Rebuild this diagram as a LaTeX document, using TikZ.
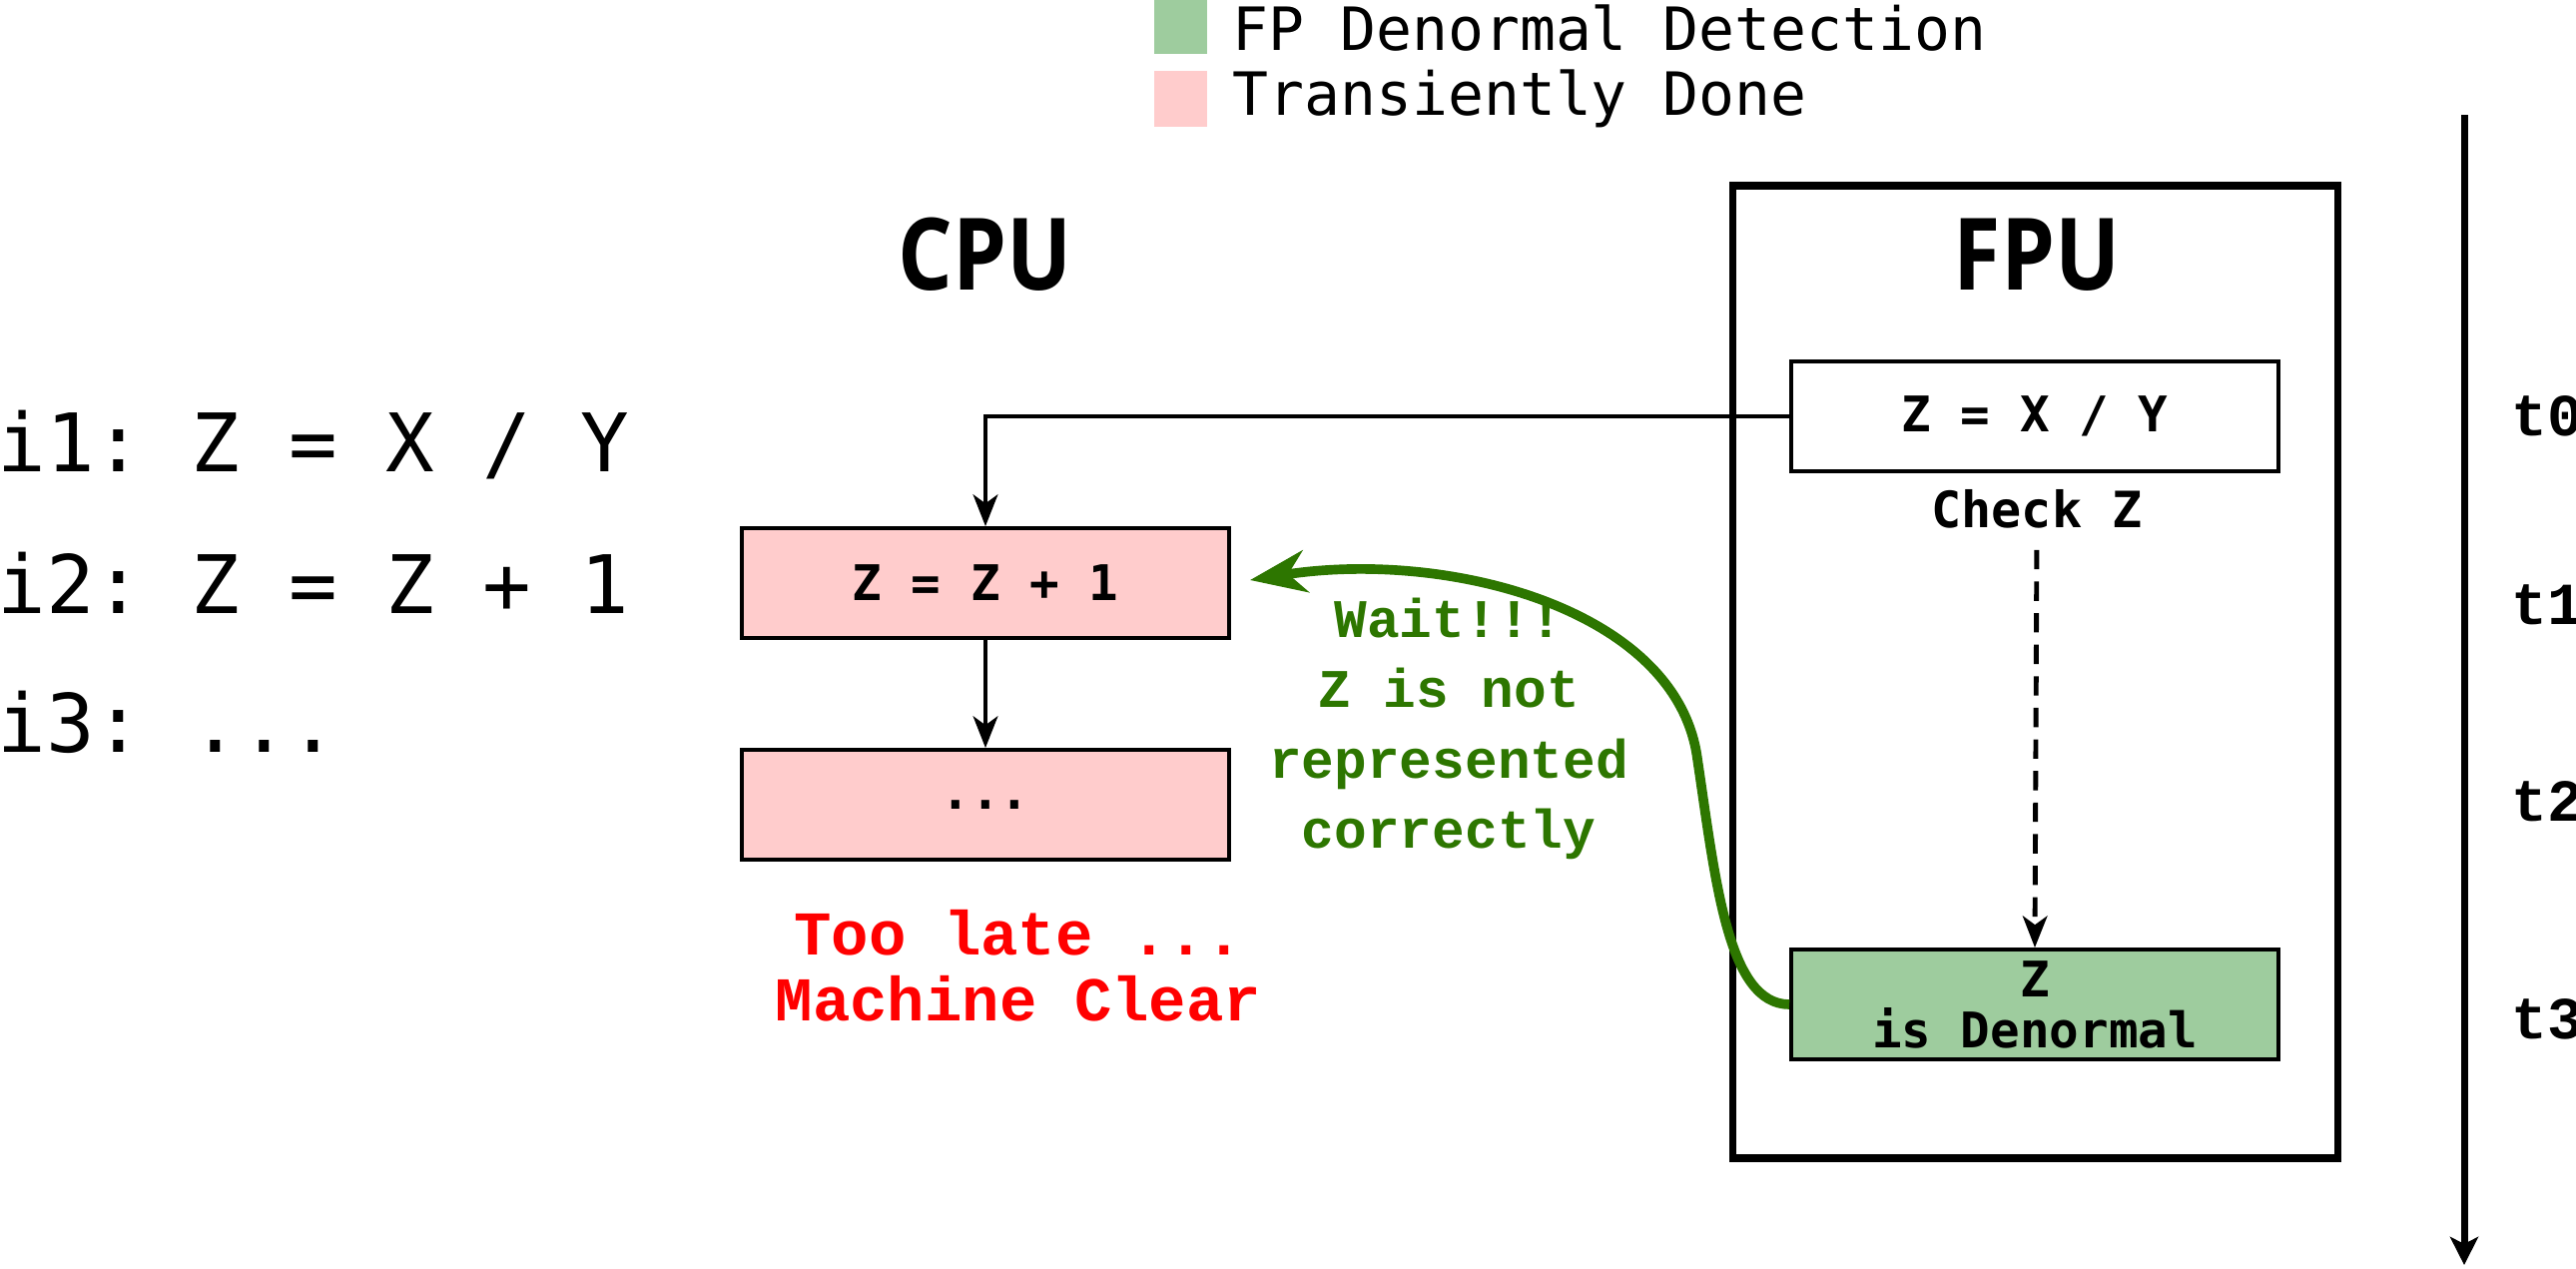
\documentclass[tikz,border=0pt]{standalone}
\usepackage{fontspec}
\setmonofont{DejaVu Sans Mono}
\newfontfamily\slabmono{Liberation Mono}
\newfontfamily\titlefont{Open Sans}[FakeStretch=0.86]
\usetikzlibrary{arrows.meta}
\definecolor{denormal}{HTML}{9ECC9E}
\definecolor{transient}{HTML}{FFCCCC}
\definecolor{waitgreen}{HTML}{2D7600}

\begin{document}
\begin{tikzpicture}[x=0.02cm,y=-0.02cm,
  code/.style={font=\ttfamily\fontsize{46}{50}\selectfont,anchor=base west,inner sep=0},
  legend/.style={font=\ttfamily\fontsize{34}{36}\selectfont,anchor=base west,inner sep=0},
  title/.style={font=\titlefont\bfseries\fontsize{57}{60}\selectfont,inner sep=0},
  opbox/.style={draw,line width=2.2pt,minimum width=9.76cm,minimum height=2.2cm,
    inner sep=0,align=center,font=\ttfamily\bfseries\fontsize{28}{29}\selectfont},
  tlabel/.style={font=\slabmono\bfseries\fontsize{34}{36}\selectfont,anchor=base west,inner sep=0},
  arr/.style={line width=2.8pt,-{Stealth[length=18pt,width=14pt,inset=5pt]}}]
\useasboundingbox (0,0) rectangle (2580,1271);

% legend
\fill[denormal] (1156,-2) rectangle (1209,54);
\fill[transient] (1156,71) rectangle (1209,127);
\node[legend] (lgden) at (1234,51) {FP Denormal Detection};
\node[legend] (lgtra) at (1234,115) {Transiently Done};

% program
\node[code] (i1) at (-3,472) {i1: Z = X / Y};
\node[code] (i2) at (-3,614) {i2: Z = Z + 1};
\node[code] (i3) at (-3,753) {i3: ...};

% CPU side
\node[title] (cpu) at (987,255) {CPU};
\node[opbox,fill=transient] (zz1) at (987,584) {Z = Z + 1};
\node[opbox,fill=transient] (dots) at (987,806) {...};
\node[font=\slabmono\bfseries\fontsize{35.5}{37.5}\selectfont,text=red,align=center] (late) at (1020,967) {Too late ...\\Machine Clear};

% FPU side
\draw[line width=4pt] (1735,186) rectangle (2341,1160);
\node[title] (fpu) at (2040,255) {FPU};
\node[opbox] (zxy) at (2038,417) {Z = X / Y};
\node[font=\ttfamily\bfseries\fontsize{28.5}{30}\selectfont,inner sep=0] (chk) at (2040,510) {Check Z};
\node[opbox,fill=denormal] (den) at (2038,1006) {Z\\is Denormal};

\draw[arr] (zxy.west) -| (zz1.north);
\draw[arr] (zz1.south) -- (dots.north);
\draw[arr,dash pattern=on 11pt off 7pt,shorten <=12pt] (chk.south) -- (den.north);

% machine clear signal
\draw[line width=5.5pt,waitgreen,shorten >=11pt,-{Stealth[length=32pt,width=24pt,inset=10pt]}]
  (den.west) .. controls (1730,1006) and (1718,880) .. (1700,760)
  .. controls (1680,610) and (1450,550) .. (zz1.east);
\node[font=\slabmono\bfseries\fontsize{31}{40}\selectfont,text=waitgreen,align=center] (wait) at (1451,730) {Wait!!!\\Z is not\\represented\\correctly};

% time axis
\coordinate (tbeg) at (2468,115);
\coordinate (tend) at (2468,1267);
\draw[line width=4pt,-{Stealth[length=16pt,width=16pt,inset=4pt]}] (tbeg) -- (tend);
\node[tlabel] (t0) at (2515,436) {t0};
\node[tlabel] (t1) at (2515,625) {t1};
\node[tlabel] (t2) at (2515,822) {t2};
\node[tlabel] (t3) at (2515,1040) {t3};
\end{tikzpicture}
\end{document}
